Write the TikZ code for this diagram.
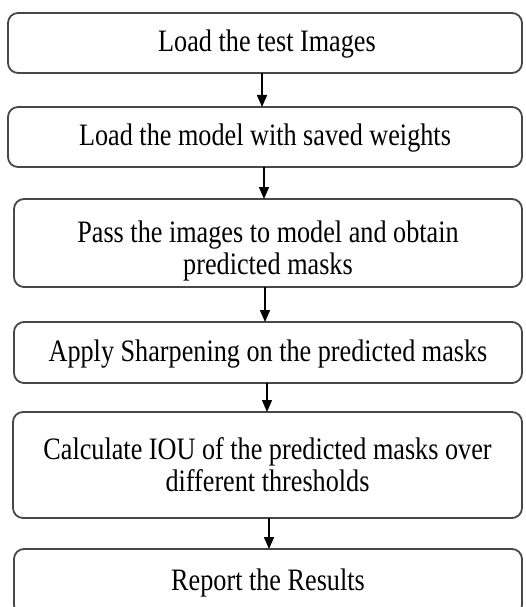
\documentclass[tikz,border=0pt]{standalone}
\usepackage{fontspec}
\setmainfont{Liberation Serif}
\usetikzlibrary{arrows.meta}
\newcommand{\vtxt}[1]{\scalebox{1}[1.19]{\begin{tabular}{@{}c@{}}#1\end{tabular}}}
\begin{document}
\begin{tikzpicture}[x=1pt,y=-1pt,
  stepbox/.style={draw=black!72, line width=1.8pt, rounded corners=10pt, inner sep=0pt, outer sep=0pt},
  steptext/.style={inner sep=0pt, font=\fontsize{26.2}{27}\selectfont, align=center},
  conn/.style={-{Triangle[length=12pt,width=10pt]}, line width=1.5pt, black}]
\useasboundingbox (0,0) rectangle (526,607);
\clip (0,0) rectangle (526,607);
\fill[white] (0,0) rectangle (526,607);
\node[stepbox, minimum width=514pt, minimum height=60pt] (b1) at (265,43) {};
\node[stepbox, minimum width=514pt, minimum height=60pt] (b2) at (265,137) {};
\node[stepbox, minimum width=508pt, minimum height=88pt] (b3) at (268,243) {};
\node[stepbox, minimum width=508pt, minimum height=61pt] (b4) at (268,352.5) {};
\node[stepbox, minimum width=509pt, minimum height=106pt] (b5) at (267.5,465) {};
\node[stepbox, minimum width=508pt, minimum height=66pt] (b6) at (268,582) {};
\node[steptext] (t1) at ([xshift=2pt,yshift=-2.5pt]b1.center) {\vtxt{Load the test Images}};
\node[steptext] (t2) at ([yshift=-2.5pt]b2.center) {\vtxt{Load the model with saved weights}};
\node[steptext] (t3) at ([yshift=-9pt]b3.center) {\vtxt{Pass the images to model and obtain\\predicted masks}};
\node[steptext] (t4) at ([yshift=-3pt]b4.center) {\vtxt{Apply Sharpening on the predicted masks}};
\node[steptext] (t5) at ([yshift=-4pt]b5.center) {\vtxt{Calculate IOU of the predicted masks over\\different thresholds}};
\node[steptext] (t6) at ([yshift=-2.5pt]b6.center) {\vtxt{Report the Results}};
\draw[conn] ([xshift=-3pt]b1.south) -- ([xshift=-3pt]b1.south |- b2.north);
\draw[conn] ([xshift=-1pt]b2.south) -- ([xshift=-1pt]b2.south |- b3.north);
\draw[conn] ([xshift=-3pt]b3.south) -- ([xshift=-3pt]b3.south |- b4.north);
\draw[conn] ([xshift=-1pt]b4.south) -- ([xshift=-1pt]b4.south |- b5.north);
\draw[conn] ([xshift=1.5pt]b5.south) -- ([xshift=1.5pt]b5.south |- b6.north);
\end{tikzpicture}
\end{document}
